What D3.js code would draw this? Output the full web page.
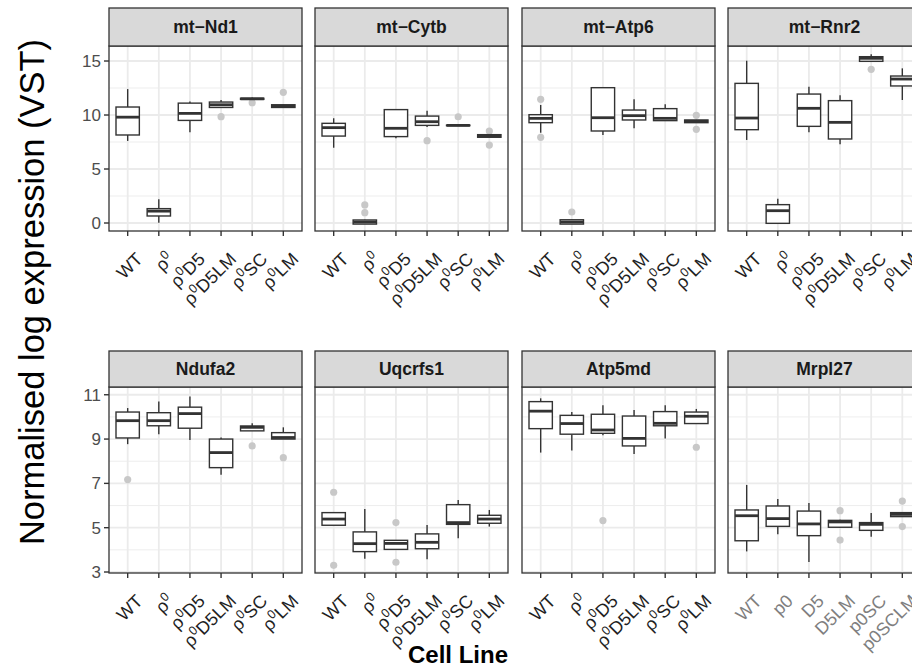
<!DOCTYPE html>
<html>
<head>
<meta charset="utf-8">
<script src="https://cdn.jsdelivr.net/npm/d3@7"></script>
<style>
  html, body { margin: 0; padding: 0; background: #fff; }
  svg { display: block; font-family: "Liberation Sans", Arial, sans-serif; }
</style>
</head>
<body>
<svg id="chart" width="912" height="667"></svg>
<script>
// ---------- DATA ----------
const genes = ["mt−Nd1", "mt−Cytb", "mt−Atp6", "mt−Rnr2", "Ndufa2", "Uqcrfs1", "Atp5md", "Mrpl27"];
const cellLines = ["WT", "ρ0", "ρ0D5", "ρ0D5LM", "ρ0SC", "ρ0LM"];
const mrpl27Labels = ["WT", "p0", "D5", "D5LM", "p0SC", "p0SCLM"];
const topTicks = [0, 5, 10, 15];
const bottomTicks = [3, 5, 7, 9, 11];

// box stats per cell line: [lower whisker, Q1, median, Q3, upper whisker]
const nd1Stats   = [[7.6, 8.15, 9.8, 10.74, 12.4], [0.03, 0.65, 1.1, 1.33, 2.19], [8.4, 9.5, 10.15, 11.1, 11.24], [10.7, 10.7, 10.95, 11.2, 11.4], [11.42, 11.45, 11.5, 11.55, 11.62], [10.65, 10.7, 10.8, 10.95, 10.98]];
const nd1Out     = [[], [], [], [9.85], [11.14], [12.1]];
const cytbStats  = [[6.97, 8.05, 8.83, 9.23, 9.7], [-0.1, -0.1, 0.09, 0.28, 0.3], [7.84, 8.0, 8.77, 10.5, 10.55], [8.9, 9.04, 9.38, 9.9, 10.4], [9.0, 9.02, 9.04, 9.06, 9.08], [7.94, 7.94, 8.06, 8.18, 8.2]];
const cytbOut    = [[], [1.67, 0.96], [], [7.62], [9.84], [8.52, 7.22]];
const atp6Stats  = [[8.36, 9.29, 9.69, 10.03, 10.93], [-0.1, -0.1, 0.09, 0.3, 0.32], [8.15, 8.52, 9.75, 12.53, 12.53], [8.77, 9.54, 9.94, 10.46, 11.45], [9.45, 9.48, 9.69, 10.59, 10.99], [9.29, 9.29, 9.42, 9.54, 9.55]];
const atp6Out    = [[11.45, 7.93], [1.02], [], [], [], [9.97, 8.67]];
const rnr2Stats  = [[7.69, 8.64, 9.72, 12.93, 15.03], [-0.03, -0.03, 1.14, 1.7, 2.25], [8.4, 8.95, 10.62, 11.94, 12.62], [7.29, 7.78, 9.32, 11.33, 11.82], [14.97, 14.97, 15.25, 15.4, 15.62], [11.39, 12.69, 13.33, 13.61, 14.32]];
const rnr2Out    = [[], [], [], [], [14.23], []];
const ndufa2Stats = [[8.77, 9.05, 9.83, 10.22, 10.4], [9.22, 9.6, 9.83, 10.19, 10.69], [8.96, 9.49, 10.15, 10.44, 10.92], [7.39, 7.71, 8.39, 9.0, 9.07], [9.37, 9.37, 9.53, 9.59, 9.71], [9.0, 9.0, 9.07, 9.29, 9.53]];
const ndufa2Out  = [[7.17], [], [], [], [8.69], [8.16]];
const uqcrStats  = [[5.11, 5.11, 5.39, 5.68, 5.68], [3.6, 3.92, 4.28, 4.81, 5.84], [4.0, 4.02, 4.29, 4.43, 4.43], [3.57, 4.05, 4.34, 4.72, 5.12], [4.52, 5.15, 5.23, 6.04, 6.25], [5.05, 5.2, 5.39, 5.56, 5.8]];
const uqcrOut    = [[6.6, 3.3], [], [5.23, 3.44], [], [], []];
const atp5Stats  = [[8.39, 9.47, 10.26, 10.69, 10.84], [8.48, 9.22, 9.7, 10.07, 10.22], [9.17, 9.26, 9.41, 10.12, 10.53], [8.33, 8.69, 9.03, 10.04, 10.31], [9.03, 9.6, 9.71, 10.24, 10.53], [9.68, 9.7, 10.03, 10.22, 10.36]];
const atp5Out    = [[], [], [5.32], [], [], [8.63]];
const mrplStats  = [[3.93, 4.41, 5.54, 5.8, 6.93], [4.7, 5.06, 5.41, 5.98, 6.3], [3.45, 4.64, 5.17, 5.75, 6.12], [5.0, 5.02, 5.26, 5.33, 5.36], [4.59, 4.88, 5.15, 5.23, 5.66], [5.5, 5.5, 5.6, 5.68, 5.68]];
const mrplOut    = [[], [], [], [5.77, 4.44], [], [6.2, 5.05]];

const allStats = [nd1Stats, cytbStats, atp6Stats, rnr2Stats, ndufa2Stats, uqcrStats, atp5Stats, mrplStats];
const allOut = [nd1Out, cytbOut, atp6Out, rnr2Out, ndufa2Out, uqcrOut, atp5Out, mrplOut];

// ---------- LAYOUT ----------
const svg = d3.select("#chart");
const panelX = [109, 315, 522, 728];
const panelW = 193;
const rows = [
  { stripTop: 8, plotTop: 46, plotBottom: 231, domain: [-0.74, 16.39], ticks: topTicks, minor: [2.5, 7.5, 12.5] },
  { stripTop: 351, plotTop: 387, plotBottom: 573, domain: [2.955, 11.35], ticks: bottomTicks, minor: [4, 6, 8, 10] }
];

const darkLine = "#333333";
const gridCol = "#ebebeb";

function addLabel(sel, label, grey) {
  // split "ρ0..." into ρ + superscript 0 + rest
  if (!grey && label.startsWith("ρ0")) {
    sel.append("tspan").text("ρ");
    sel.append("tspan").attr("font-size", "12.5px").attr("dy", "-7").text("0");
    sel.append("tspan").attr("dy", "7").text(label.slice(2));
  } else {
    sel.text(label);
  }
}

genes.forEach((gene, gi) => {
  const row = rows[Math.floor(gi / 4)];
  const x0 = panelX[gi % 4];
  const isMrpl = gene === "Mrpl27";
  const labels = isMrpl ? mrpl27Labels : cellLines;

  // ggplot discrete: 0.6 expansion each side => outer padding 0.1 band each side
  const x = d3.scaleBand().domain(labels).range([x0, x0 + panelW]).paddingOuter(0.1).paddingInner(0);
  const xc = d => x(d) + x.bandwidth() / 2;
  const y = d3.scaleLinear().domain(row.domain).range([row.plotBottom, row.plotTop]);

  const g = svg.append("g");

  // panel background + grid
  g.append("rect").attr("x", x0).attr("y", row.plotTop).attr("width", panelW)
    .attr("height", row.plotBottom - row.plotTop).attr("fill", "#fff");
  g.selectAll(".minor").data(row.minor).join("line")
    .attr("x1", x0).attr("x2", x0 + panelW).attr("y1", d => y(d)).attr("y2", d => y(d))
    .attr("stroke", gridCol).attr("stroke-width", 0.9);
  g.selectAll(".major").data(row.ticks).join("line")
    .attr("x1", x0).attr("x2", x0 + panelW).attr("y1", d => y(d)).attr("y2", d => y(d))
    .attr("stroke", gridCol).attr("stroke-width", 1.8);
  g.selectAll(".vgrid").data(labels).join("line")
    .attr("x1", d => xc(d)).attr("x2", d => xc(d)).attr("y1", row.plotTop).attr("y2", row.plotBottom)
    .attr("stroke", gridCol).attr("stroke-width", 1.8);

  // boxplots
  const stats = allStats[gi];
  const outs = allOut[gi];
  const bw = x.bandwidth() * 0.75;
  labels.forEach((lab, i) => {
    const s = stats[i];
    const cx = xc(lab);
    g.selectAll(null).data(outs[i]).join("circle")
      .attr("cx", cx).attr("cy", d => y(d)).attr("r", 3.6).attr("fill", "#c8c8c8");
    g.append("line").attr("x1", cx).attr("x2", cx).attr("y1", y(s[3])).attr("y2", y(s[4]))
      .attr("stroke", darkLine).attr("stroke-width", 1.4);
    g.append("line").attr("x1", cx).attr("x2", cx).attr("y1", y(s[0])).attr("y2", y(s[1]))
      .attr("stroke", darkLine).attr("stroke-width", 1.4);
    g.append("rect").attr("x", cx - bw / 2).attr("width", bw)
      .attr("y", y(s[3])).attr("height", Math.max(0.5, y(s[1]) - y(s[3])))
      .attr("fill", "#fff").attr("stroke", darkLine).attr("stroke-width", 1.4);
    g.append("line").attr("x1", cx - bw / 2).attr("x2", cx + bw / 2).attr("y1", y(s[2])).attr("y2", y(s[2]))
      .attr("stroke", darkLine).attr("stroke-width", 2.8);
  });

  // panel border
  g.append("rect").attr("x", x0).attr("y", row.plotTop).attr("width", panelW)
    .attr("height", row.plotBottom - row.plotTop).attr("fill", "none")
    .attr("stroke", darkLine).attr("stroke-width", 1.3);

  // strip
  g.append("rect").attr("x", x0).attr("y", row.stripTop).attr("width", panelW)
    .attr("height", row.plotTop - row.stripTop).attr("fill", "#d9d9d9")
    .attr("stroke", darkLine).attr("stroke-width", 1.3);
  g.append("text").attr("x", x0 + panelW / 2).attr("y", (row.stripTop + row.plotTop) / 2)
    .attr("dy", "0.36em").attr("text-anchor", "middle").attr("font-weight", "bold")
    .attr("font-size", "17.5px").attr("fill", "#1a1a1a").text(gene);

  // x axis ticks + labels
  g.selectAll(".xt").data(labels).join("line")
    .attr("x1", d => xc(d)).attr("x2", d => xc(d)).attr("y1", row.plotBottom).attr("y2", row.plotBottom + 5)
    .attr("stroke", darkLine).attr("stroke-width", 1.4);
  labels.forEach(lab => {
    const t = g.append("text")
      .attr("transform", `translate(${xc(lab) + 7},${row.plotBottom + 20}) rotate(-45)`)
      .attr("text-anchor", "end").attr("dy", "0.72em")
      .attr("font-size", "18px").attr("fill", isMrpl ? "#7f7f7f" : "#1f1f1f");
    addLabel(t, lab, isMrpl);
  });

  // y axis on first column
  if (gi % 4 === 0) {
    g.selectAll(".yt").data(row.ticks).join("line")
      .attr("x1", x0 - 5).attr("x2", x0).attr("y1", d => y(d)).attr("y2", d => y(d))
      .attr("stroke", darkLine).attr("stroke-width", 1.4);
    g.selectAll(".yl").data(row.ticks).join("text")
      .attr("x", x0 - 8).attr("y", d => y(d)).attr("dy", "0.36em").attr("text-anchor", "end")
      .attr("font-size", "17px").attr("fill", "#4d4d4d").text(d => d);
  }
});

// axis titles
svg.append("text").attr("transform", "translate(44,292) rotate(-90)")
  .attr("text-anchor", "middle").attr("font-size", "34.5px").attr("fill", "#000")
  .text("Normalised log expression (VST)");
svg.append("text").attr("x", 458).attr("y", 663).attr("text-anchor", "middle")
  .attr("font-size", "24px").attr("font-weight", "bold").attr("fill", "#000").text("Cell Line");
</script>
</body>
</html>
